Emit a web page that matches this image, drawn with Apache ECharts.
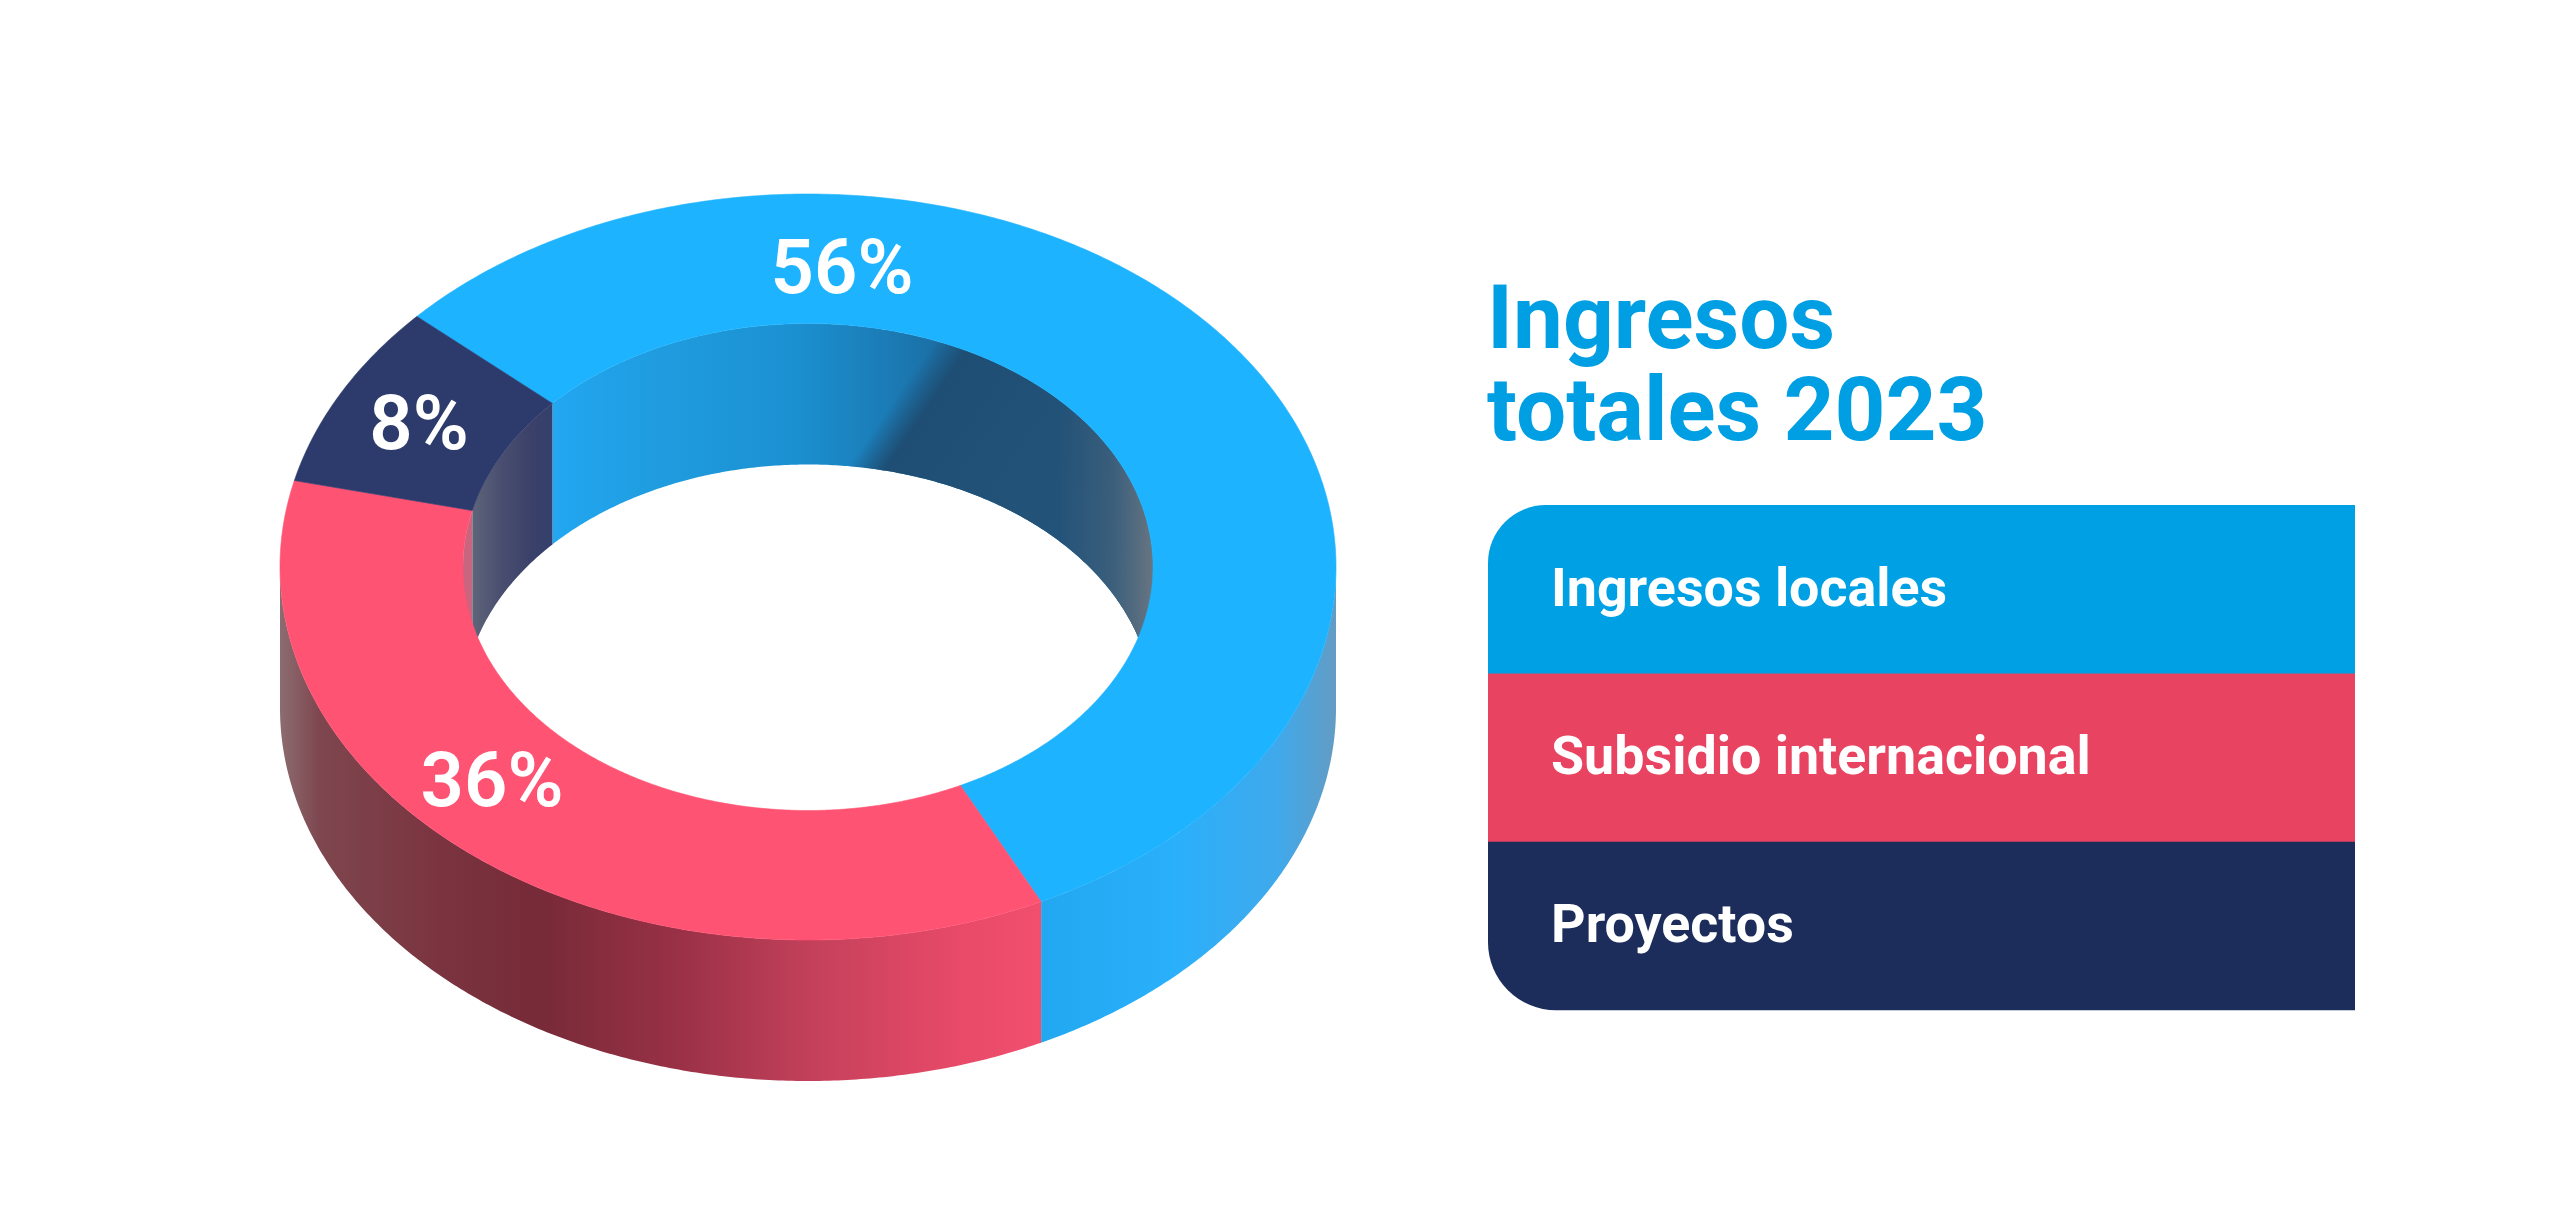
<!DOCTYPE html>
<html>
<head>
<meta charset="utf-8">
<style>html,body{margin:0;padding:0;background:#fff}#c{width:2560px;height:1213px}</style>
<script src="https://cdn.jsdelivr.net/npm/echarts@6/dist/echarts.min.js"></script>
</head>
<body>
<div id="c"></div>
<script>
// ---- data ----
const titleText = 'Ingresos\ntotales 2023';
const categories = ['Ingresos locales', 'Subsidio internacional', 'Proyectos'];
const values = [56, 36, 8];
const labels = ['56%', '36%', '8%'];

// ---- styles and layout ----
const topColors = ['#1DB3FF', '#FF5374', '#2C3A6C'];
const legendColors = ['#00A0E4', '#E94362', '#1C2C5B'];
const FONT = 'Roboto, "Liberation Sans", sans-serif';
const ring = {cx: 808, cy: 567, rx: 528, ry: 373, irx: 345, iry: 243.5, depth: 141, start: 312.2};
const labelPos = [[842, 274], [492, 787], [419, 430]];
const legendBox = {x: 1488, y: 505, w: 867, h: 168.4, rTop: 58, rBottom: 68, textX: 1551};

const outerWallStops = [
  [[1043,'#22A8F0'],[1172,'#2AB0FB'],[1277,'#3FA9EC'],[1336,'#639CC4']],
  [[280,'#8C6C70'],[320,'#7E464E'],[440,'#7A3440'],[540,'#772A38'],[680,'#9A3146'],[820,'#C6415C'],[960,'#E84A68'],[1043,'#F24F6E']],
  [[280,'#000'],[1336,'#000']]
];
const innerWallStops = [
  [[551,'#22A7F1'],[660,'#1F9CDF'],[790,'#1B91D2'],[880,'#1B7DB8'],[960,'#1B6A9E'],[1152,'#1B6A9E']],
  [[463,'#C8657F'],[472,'#C8657F']],
  [[472,'#5F6579'],[500,'#4A4F70'],[530,'#3B4169'],[551,'#343F6C']]
];

// ---- helpers ----
const spans = (() => {
  const total = values.reduce((s, v) => s + v, 0);
  let a = ring.start;
  return values.map(v => { const b = a + v / total * 360; const r = [a, b]; a = b; return r; });
})();
const pt = (rx, ry, deg, dy) => {
  const t = deg * Math.PI / 180;
  return [ring.cx + rx * Math.sin(t), ring.cy - ry * Math.cos(t) + (dy || 0)];
};
const arc = (rx, ry, a, b, dy) => {
  const n = Math.max(2, Math.ceil(Math.abs(b - a) / 0.5));
  const out = [];
  for (let i = 0; i <= n; i++) out.push(pt(rx, ry, a + (b - a) * i / n, dy));
  return out;
};
const clipSpan = (s, lo, hi) => {
  for (const k of [-360, 0, 360]) {
    const a = Math.max(s[0], lo + k), b = Math.min(s[1], hi + k);
    if (b > a) return [a, b];
  }
  return null;
};
const hGrad = (stops) => {
  const x0 = stops[0][0], x1 = stops[stops.length - 1][0];
  return {type: 'linear', global: true, x: x0, y: 0, x2: x1, y2: 0,
    colorStops: stops.map(s => ({offset: (s[0] - x0) / (x1 - x0), color: s[1]}))};
};
const poly = (points, fill) => ({type: 'polygon', shape: {points}, style: {fill}, silent: true});

// ---- render functions ----
function renderOuterWall(params) {
  const i = params.dataIndex;
  const s = clipSpan(spans[i], 90, 270);
  if (!s) return {type: 'group', children: []};
  const pts = arc(ring.rx, ring.ry, s[0], s[1], 0).concat(arc(ring.rx, ring.ry, s[1], s[0], ring.depth));
  return poly(pts, hGrad(outerWallStops[i]));
}
function renderInnerWall(params) {
  const i = params.dataIndex;
  const s = clipSpan(spans[i], 270, 450);
  if (!s) return {type: 'group', children: []};
  const pts = arc(ring.irx, ring.iry, s[0], s[1], 0).concat(arc(ring.irx, ring.iry, s[1], s[0], ring.depth));
  const children = [poly(pts, hGrad(innerWallStops[i]))];
  if (i === 0) {
    // cast shadow on the far wall, with a soft edge slanted across the wall
    children.push(poly(pts, {type: 'linear', global: true, x: 892, y: 403, x2: 1132, y2: 569, colorStops: [
      {offset: 0, color: 'rgba(30,78,116,0)'},
      {offset: 0.11, color: 'rgba(30,78,116,1)'},
      {offset: 0.5, color: 'rgba(34,82,120,1)'},
      {offset: 1, color: 'rgba(38,84,122,1)'}
    ]}));
    children.push(poly(pts, hGrad([[1060,'rgba(130,130,130,0)'],[1110,'rgba(130,130,130,.22)'],[1152,'rgba(150,140,135,.58)']])));
  }
  return {type: 'group', children};
}
function renderTop(params) {
  const i = params.dataIndex, s = spans[i];
  const pts = arc(ring.rx, ring.ry, s[0], s[1], 0).concat(arc(ring.irx, ring.iry, s[1], s[0], 0));
  return {type: 'polygon', shape: {points: pts}, silent: true,
    style: {fill: topColors[i], stroke: topColors[i], lineWidth: 0.6}};
}
function renderLabel(params) {
  const i = params.dataIndex;
  return {type: 'text', silent: true, x: labelPos[i][0], y: labelPos[i][1],
    style: {text: labels[i], fill: '#fff', font: '600 76px ' + FONT, align: 'center', verticalAlign: 'middle'}};
}
function renderLegend(params) {
  const i = params.dataIndex, b = legendBox, last = categories.length - 1;
  const y = b.y + b.h * i;
  return {type: 'group', silent: true, children: [
    {type: 'rect', shape: {x: b.x, y, width: b.w, height: b.h + (i < last ? 0.5 : 0),
      r: [i === 0 ? b.rTop : 0, 0, 0, i === last ? b.rBottom : 0]}, style: {fill: legendColors[i]}},
    {type: 'text', x: b.textX, y: y + b.h / 2 + 3,
      style: {text: categories[i], fill: '#fff', font: '700 53.8px ' + FONT, align: 'left', verticalAlign: 'middle'}}
  ]};
}

const seriesData = categories.map((name, i) => ({name, value: values[i]}));
const custom = (renderItem, z) => ({type: 'custom', coordinateSystem: 'none', renderItem, data: seriesData, z, animation: false, silent: true});

const chart = echarts.init(document.getElementById('c'), null, {renderer: 'canvas'});
chart.setOption({
  animation: false,
  backgroundColor: '#fff',
  title: {
    text: titleText, left: 1482, top: 274,
    textStyle: {color: '#009FE3', fontFamily: FONT, fontWeight: 700, fontSize: 89, lineHeight: 92.5}
  },
  tooltip: {show: false},
  series: [
    custom(renderOuterWall, 1),
    custom(renderInnerWall, 2),
    custom(renderTop, 3),
    custom(renderLabel, 4),
    custom(renderLegend, 5)
  ]
});
</script>
</body>
</html>
